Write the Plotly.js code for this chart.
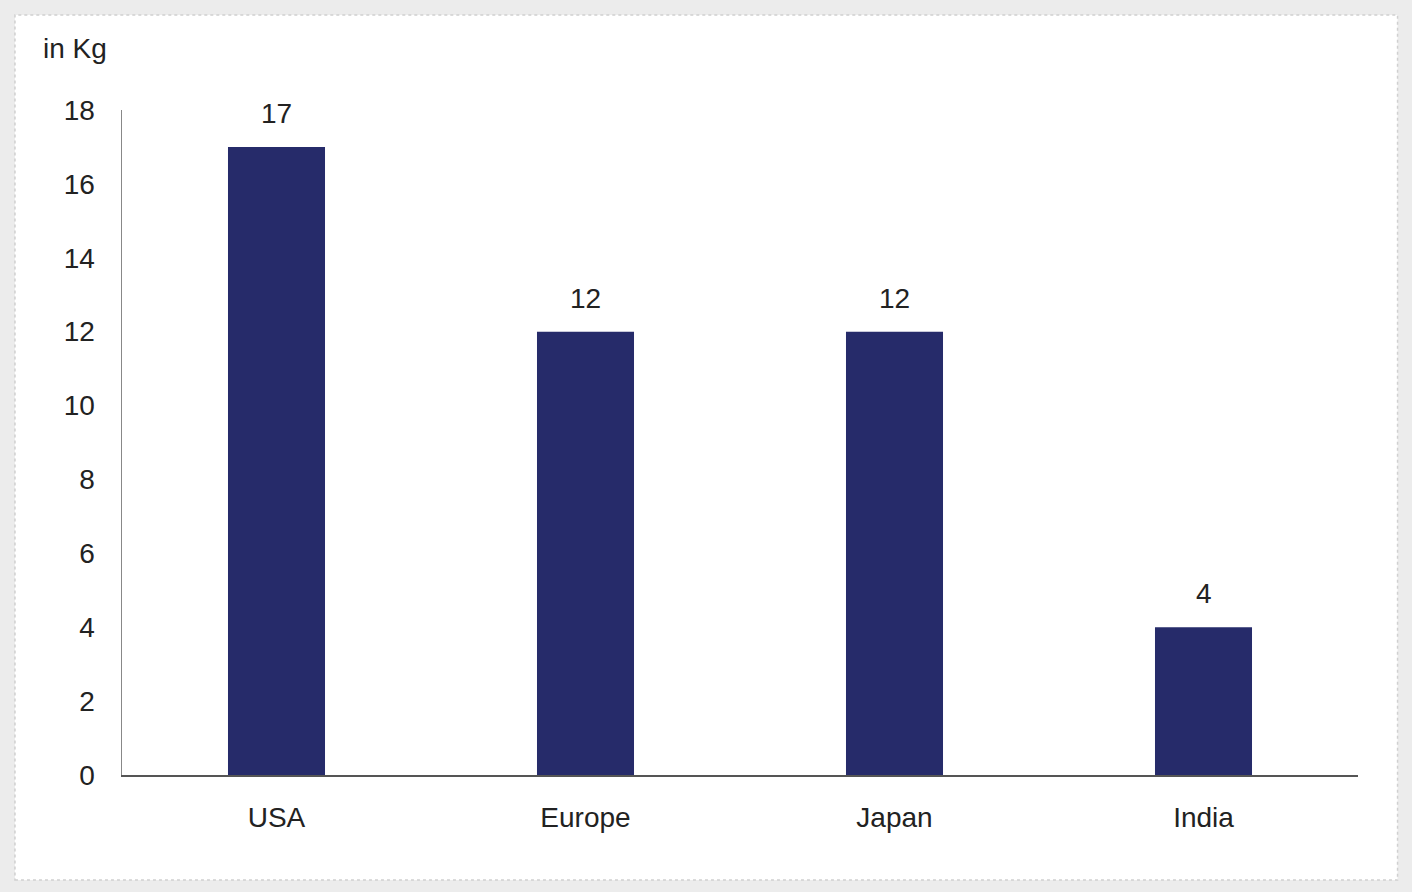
<!DOCTYPE html>
<html>
<head>
<meta charset="utf-8">
<script src="https://cdn.plot.ly/plotly-3.0.1.min.js"></script>
<style>html,body{margin:0;padding:0;background:#ececec;}#chart{width:1412px;height:892px;}</style>
</head>
<body>
<div id="chart"></div>
<script>
const categories = ["USA", "Europe", "Japan", "India"];
const values = [17, 12, 12, 4];
const valueLabels = ["17", "12", "12", "4"];
const yTicks = [0, 2, 4, 6, 8, 10, 12, 14, 16, 18];
const unitLabel = "in Kg";

const FONT = "Liberation Sans, Arial, sans-serif";

const trace = {
  type: "bar",
  x: categories,
  y: values,
  marker: { color: "#262b6a", line: { width: 0 } },
  hoverinfo: "skip"
};

const annotations = categories.map((c, i) => ({
  x: c, y: values[i], xref: "x", yref: "y",
  text: valueLabels[i], showarrow: false,
  yanchor: "bottom", yshift: 16,
  font: { family: FONT, size: 28, color: "#222" }
}));
annotations.push({
  xref: "paper", yref: "paper", x: -0.0655, y: 1.093, xanchor: "left", yanchor: "middle",
  text: unitLabel, showarrow: false,
  font: { family: FONT, size: 28, color: "#222" }
});

const layout = {
  width: 1412, height: 892,
  margin: { l: 122, r: 54, t: 110, b: 117 },
  paper_bgcolor: "#ececec",
  plot_bgcolor: "rgba(0,0,0,0)",
  bargap: 0.686,
  showlegend: false,
  font: { family: FONT, size: 28, color: "#222" },
  xaxis: {
    type: "category",
    range: [-0.5, 3.5],
    showgrid: false, zeroline: false,
    showline: true, linecolor: "#555", linewidth: 2,
    ticks: "outside", ticklen: 16, tickcolor: "rgba(0,0,0,0)",
    tickfont: { family: FONT, size: 28, color: "#222" }
  },
  yaxis: {
    range: [0, 18],
    tickvals: yTicks,
    ticktext: yTicks.map(String),
    showgrid: false, zeroline: false,
    showline: true, linecolor: "#888", linewidth: 1.5,
    ticks: "outside", ticklen: 20, tickcolor: "rgba(0,0,0,0)",
    tickfont: { family: FONT, size: 28, color: "#222" }
  },
  shapes: [{
    type: "rect", xref: "paper", yref: "paper", layer: "below",
    x0: -0.0866, x1: 1.032, y0: -0.158, y1: 1.143,
    fillcolor: "#ffffff", line: { color: "#d0d0d0", width: 1.5, dash: "dot" }
  }],
  annotations: annotations
};

Plotly.newPlot("chart", [trace], layout, { displayModeBar: false, staticPlot: true });
</script>
</body>
</html>
